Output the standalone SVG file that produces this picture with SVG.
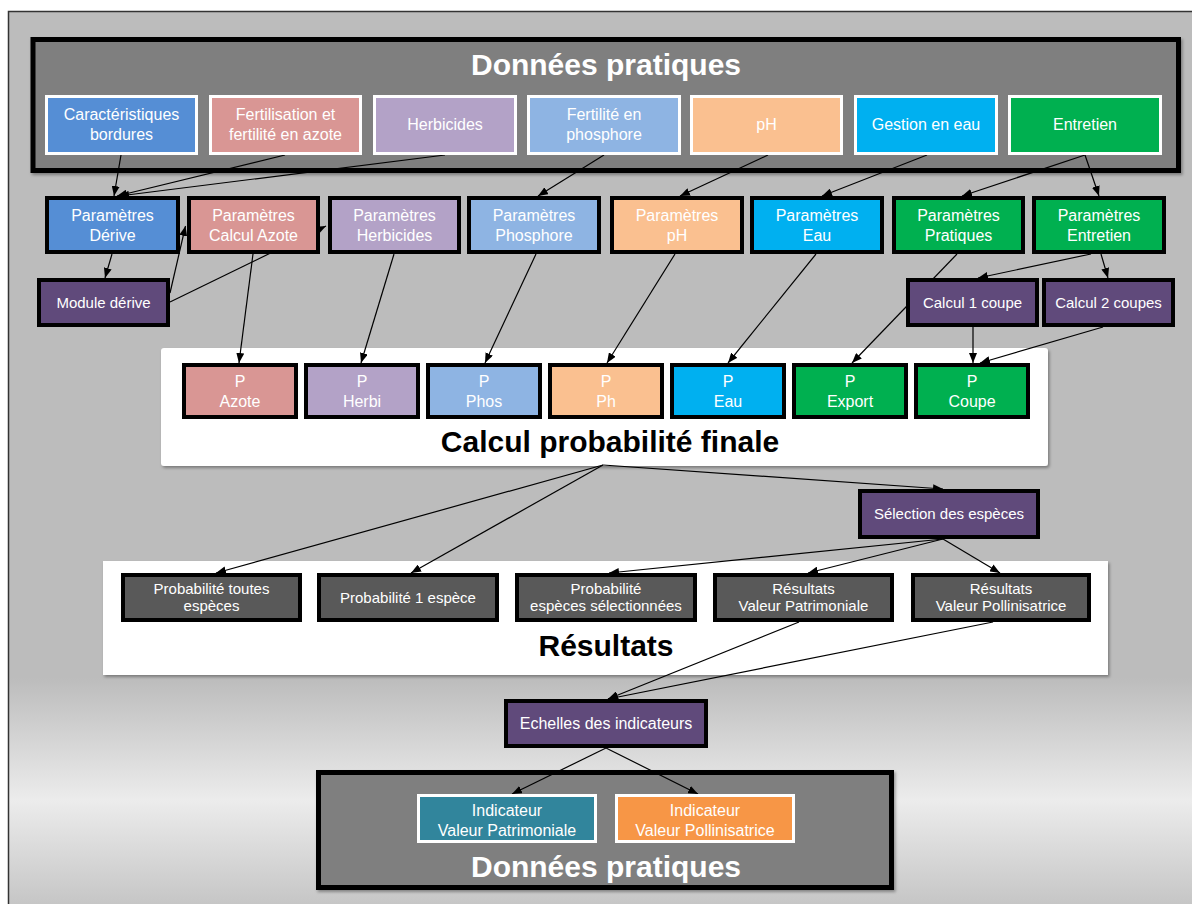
<svg xmlns="http://www.w3.org/2000/svg" width="1192" height="904" viewBox="0 0 1192 904">
<defs>
<linearGradient id="bg" x1="0" y1="0" x2="0" y2="904" gradientUnits="userSpaceOnUse">
<stop offset="0" stop-color="#bcbcbc"/>
<stop offset="0.75" stop-color="#bcbcbc"/>
<stop offset="0.885" stop-color="#ececec"/>
<stop offset="1" stop-color="#c6c6c6"/>
</linearGradient>
<marker id="ah" markerWidth="10" markerHeight="8" refX="10" refY="4" orient="auto" markerUnits="userSpaceOnUse">
<path d="M0,0 L10,4 L0,8 z" fill="#000"/>
</marker>
<filter id="sh" x="-5%" y="-5%" width="110%" height="115%">
<feDropShadow dx="1.5" dy="2" stdDeviation="1.5" flood-color="#000" flood-opacity="0.35"/>
</filter>
</defs>
<style>
.t{font-family:"Liberation Sans",Arial,sans-serif;fill:#fff;text-anchor:middle}
.s16{font-size:16px}
.s15{font-size:15px}
.title{font-family:"Liberation Sans",Arial,sans-serif;font-weight:bold;font-size:30px;text-anchor:middle}
.wb{stroke:#fff;stroke-width:3}
.bb{stroke:#000;stroke-width:4}
.c line{stroke:#000;stroke-width:1.2;marker-end:url(#ah)}
</style>
<rect x="0" y="0" width="1192" height="904" fill="#fff"/>
<rect x="8.5" y="11.5" width="1200" height="900" fill="url(#bg)" stroke="#333" stroke-width="1.5"/>

<!-- panels -->
<g id="panel-donnees-top">
<rect x="33" y="39.5" width="1145.5" height="131" fill="#7f7f7f" stroke="#000" stroke-width="5" filter="url(#sh)"/>
<text class="title" x="606" y="75" fill="#fff">Données pratiques</text>
</g>
<g id="panel-calcul">
<rect x="161" y="348" width="887" height="118" rx="3" fill="#fff" filter="url(#sh)"/>
<text class="title" x="610" y="452" fill="#000">Calcul probabilité finale</text>
</g>
<g id="panel-resultats">
<rect x="103" y="561" width="1005" height="114" fill="#fff" filter="url(#sh)"/>
<text class="title" x="606" y="656" fill="#000">Résultats</text>
</g>
<g id="panel-donnees-bottom">
<rect x="318.5" y="772.5" width="573" height="115" fill="#7f7f7f" stroke="#000" stroke-width="5" filter="url(#sh)"/>
<text class="title" x="606" y="877" fill="#fff">Données pratiques</text>
</g>

<!-- connectors -->
<g id="connectors" class="c">
<line x1="121" y1="155" x2="114" y2="196"/>
<line x1="285" y1="155" x2="117" y2="196"/>
<line x1="445" y1="155" x2="119" y2="196"/>
<line x1="604" y1="155" x2="538" y2="196"/>
<line x1="768" y1="155" x2="680" y2="196"/>
<line x1="927" y1="155" x2="822" y2="196"/>
<line x1="1085" y1="155" x2="962" y2="196"/>
<line x1="1085" y1="155" x2="1099" y2="196"/>
<line x1="112" y1="254" x2="105" y2="278"/>
<line x1="170" y1="293" x2="185.5" y2="226"/>
<line x1="170" y1="302" x2="326" y2="226"/>
<line x1="253" y1="254" x2="239" y2="363"/>
<line x1="394" y1="254" x2="361" y2="363"/>
<line x1="536" y1="254" x2="485" y2="363"/>
<line x1="675" y1="254" x2="607" y2="363"/>
<line x1="816" y1="254" x2="728" y2="363"/>
<line x1="957" y1="254" x2="852" y2="363"/>
<line x1="1091" y1="254" x2="978" y2="278"/>
<line x1="1101" y1="254" x2="1108" y2="278"/>
<line x1="973" y1="327" x2="973" y2="363"/>
<line x1="1103" y1="327" x2="980" y2="363"/>
<line x1="603" y1="465" x2="943" y2="489"/>
<line x1="603" y1="465" x2="216" y2="573"/>
<line x1="603" y1="465" x2="411" y2="573"/>
<line x1="943" y1="539" x2="609" y2="573"/>
<line x1="943" y1="539" x2="808" y2="573"/>
<line x1="943" y1="539" x2="1000" y2="573"/>
<line x1="799" y1="622" x2="608" y2="699"/>
<line x1="993" y1="622" x2="608" y2="699"/>
<line x1="606" y1="748" x2="512" y2="794"/>
<line x1="606" y1="748" x2="698" y2="794"/>
</g>

<!-- top row -->
<g id="n-caracteristiques"><rect class="wb" x="46.5" y="96.5" width="150" height="57" fill="#558ed5"/><text class="t s16" x="121.5" y="120">Caractéristiques</text><text class="t s16" x="121.5" y="140">bordures</text></g>
<g id="n-fertilisation"><rect class="wb" x="210.5" y="96.5" width="150" height="57" fill="#d99694"/><text class="t s16" x="285.5" y="120">Fertilisation et</text><text class="t s16" x="285.5" y="140">fertilité en azote</text></g>
<g id="n-herbicides"><rect class="wb" x="374.5" y="96.5" width="141" height="57" fill="#b3a2c7"/><text class="t s16" x="445" y="130">Herbicides</text></g>
<g id="n-phosphore"><rect class="wb" x="528.5" y="96.5" width="151" height="57" fill="#8eb4e3"/><text class="t s16" x="604" y="120">Fertilité en</text><text class="t s16" x="604" y="140">phosphore</text></g>
<g id="n-ph"><rect class="wb" x="691.5" y="96.5" width="150" height="57" fill="#fac090"/><text class="t s16" x="766.5" y="130">pH</text></g>
<g id="n-eau"><rect class="wb" x="855.5" y="96.5" width="141" height="57" fill="#00b0f0"/><text class="t s16" x="926" y="130">Gestion en eau</text></g>
<g id="n-entretien"><rect class="wb" x="1009.5" y="96.5" width="151" height="57" fill="#00b050"/><text class="t s16" x="1085" y="130">Entretien</text></g>

<!-- parametres row -->
<g id="p-derive"><rect class="bb" x="47" y="198" width="131" height="54" fill="#558ed5"/><text class="t s16" x="112.5" y="221">Paramètres</text><text class="t s16" x="112.5" y="241">Dérive</text></g>
<g id="p-azote"><rect class="bb" x="189" y="198" width="129" height="54" fill="#d99694"/><text class="t s16" x="253.5" y="221">Paramètres</text><text class="t s16" x="253.5" y="241">Calcul Azote</text></g>
<g id="p-herbicides"><rect class="bb" x="330" y="198" width="129" height="54" fill="#b3a2c7"/><text class="t s16" x="394.5" y="221">Paramètres</text><text class="t s16" x="394.5" y="241">Herbicides</text></g>
<g id="p-phosphore"><rect class="bb" x="469" y="198" width="130" height="54" fill="#8eb4e3"/><text class="t s16" x="534" y="221">Paramètres</text><text class="t s16" x="534" y="241">Phosphore</text></g>
<g id="p-ph"><rect class="bb" x="612" y="198" width="130" height="54" fill="#fac090"/><text class="t s16" x="677" y="221">Paramètres</text><text class="t s16" x="677" y="241">pH</text></g>
<g id="p-eau"><rect class="bb" x="752" y="198" width="130" height="54" fill="#00b0f0"/><text class="t s16" x="817" y="221">Paramètres</text><text class="t s16" x="817" y="241">Eau</text></g>
<g id="p-pratiques"><rect class="bb" x="894" y="198" width="129" height="54" fill="#00b050"/><text class="t s16" x="958.5" y="221">Paramètres</text><text class="t s16" x="958.5" y="241">Pratiques</text></g>
<g id="p-entretien"><rect class="bb" x="1034" y="198" width="130" height="54" fill="#00b050"/><text class="t s16" x="1099" y="221">Paramètres</text><text class="t s16" x="1099" y="241">Entretien</text></g>

<!-- modules -->
<g id="m-derive"><rect class="bb" x="39" y="280" width="129" height="45" fill="#604a7b"/><text class="t s15" x="103.5" y="308">Module dérive</text></g>
<g id="m-coupe1"><rect class="bb" x="908" y="280" width="129" height="45" fill="#604a7b"/><text class="t s15" x="972.5" y="308">Calcul 1 coupe</text></g>
<g id="m-coupe2"><rect class="bb" x="1044" y="280" width="129" height="45" fill="#604a7b"/><text class="t s15" x="1108.5" y="308">Calcul 2 coupes</text></g>

<!-- P boxes -->
<g id="pb-azote"><rect class="bb" x="184" y="365" width="112" height="52" fill="#d99694"/><text class="t s16" x="240" y="387">P</text><text class="t s16" x="240" y="407">Azote</text></g>
<g id="pb-herbi"><rect class="bb" x="306" y="365" width="112" height="52" fill="#b3a2c7"/><text class="t s16" x="362" y="387">P</text><text class="t s16" x="362" y="407">Herbi</text></g>
<g id="pb-phos"><rect class="bb" x="428" y="365" width="112" height="52" fill="#8eb4e3"/><text class="t s16" x="484" y="387">P</text><text class="t s16" x="484" y="407">Phos</text></g>
<g id="pb-ph"><rect class="bb" x="550" y="365" width="112" height="52" fill="#fac090"/><text class="t s16" x="606" y="387">P</text><text class="t s16" x="606" y="407">Ph</text></g>
<g id="pb-eau"><rect class="bb" x="672" y="365" width="112" height="52" fill="#00b0f0"/><text class="t s16" x="728" y="387">P</text><text class="t s16" x="728" y="407">Eau</text></g>
<g id="pb-export"><rect class="bb" x="794" y="365" width="112" height="52" fill="#00b050"/><text class="t s16" x="850" y="387">P</text><text class="t s16" x="850" y="407">Export</text></g>
<g id="pb-coupe"><rect class="bb" x="916" y="365" width="112" height="52" fill="#00b050"/><text class="t s16" x="972" y="387">P</text><text class="t s16" x="972" y="407">Coupe</text></g>

<g id="n-selection"><rect class="bb" x="860" y="491" width="178" height="46" fill="#604a7b"/><text class="t s15" x="949" y="519">Sélection des espèces</text></g>

<!-- results -->
<g id="r-toutes"><rect class="bb" x="123" y="575" width="177" height="45" fill="#595959"/><text class="t s15" x="211.5" y="594">Probabilité toutes</text><text class="t s15" x="211.5" y="611">espèces</text></g>
<g id="r-une"><rect class="bb" x="319" y="575" width="178" height="45" fill="#595959"/><text class="t s15" x="408" y="603">Probabilité 1 espèce</text></g>
<g id="r-select"><rect class="bb" x="517" y="575" width="178" height="45" fill="#595959"/><text class="t s15" x="606" y="594">Probabilité</text><text class="t s15" x="606" y="611">espèces sélectionnées</text></g>
<g id="r-patri"><rect class="bb" x="715" y="575" width="177" height="45" fill="#595959"/><text class="t s15" x="803.5" y="594">Résultats</text><text class="t s15" x="803.5" y="611">Valeur Patrimoniale</text></g>
<g id="r-polli"><rect class="bb" x="913" y="575" width="176" height="45" fill="#595959"/><text class="t s15" x="1001" y="594">Résultats</text><text class="t s15" x="1001" y="611">Valeur Pollinisatrice</text></g>

<g id="n-echelles"><rect class="bb" x="506" y="701" width="200" height="45" fill="#604a7b"/><text class="t s16" x="606" y="729">Echelles des indicateurs</text></g>

<g id="i-patri"><rect class="wb" x="418.5" y="795.5" width="177" height="46" fill="#31859c"/><text class="t s16" x="507" y="816">Indicateur</text><text class="t s16" x="507" y="836">Valeur Patrimoniale</text></g>
<g id="i-polli"><rect class="wb" x="616.5" y="795.5" width="177" height="46" fill="#f79646"/><text class="t s16" x="705" y="816">Indicateur</text><text class="t s16" x="705" y="836">Valeur Pollinisatrice</text></g>
</svg>
